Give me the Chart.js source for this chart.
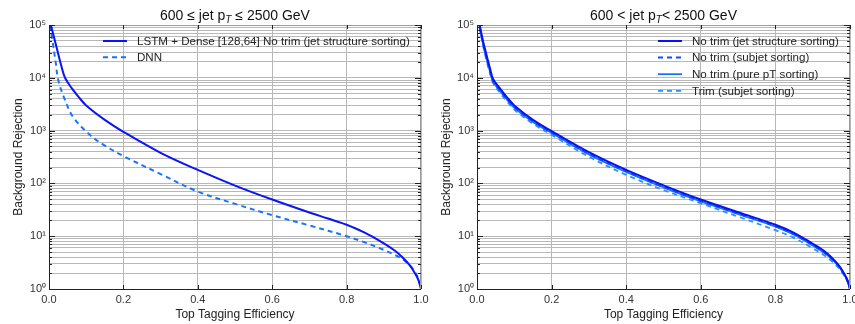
<!DOCTYPE html>
<html>
<head>
<meta charset="utf-8">
<script src="https://cdn.jsdelivr.net/npm/chart.js@4.4.0/dist/chart.umd.min.js"></script>
<style>
  html, body { margin: 0; padding: 0; background: #fff; overflow: hidden; width: 855px; height: 324px; }
  canvas { position: absolute; top: 0; }
  #left { left: 0; }
  #right { left: 430px; }
</style>
</head>
<body>
<canvas id="left" width="440" height="324"></canvas>
<canvas id="right" width="440" height="324"></canvas>
<script>
// --- data ---
// left panel
const effLstm = [0.005, 0.016, 0.025, 0.035, 0.043, 0.06, 0.08, 0.1, 0.15, 0.2, 0.3, 0.4, 0.5, 0.6, 0.7, 0.75, 0.8, 0.85, 0.875, 0.9, 0.93, 0.95, 0.97, 0.98, 0.99, 0.995, 1.0];
const rejLstm = [100000, 50000, 28000, 15000, 10000, 6500, 4300, 3000, 1600, 950, 380, 180, 91, 49.5, 28.1, 21.6, 16.5, 11.6, 9.3, 7.3, 5.3, 4, 2.8, 2.2, 1.65, 1.35, 1];
const effDnn  = [0.003, 0.01, 0.018, 0.025, 0.043, 0.065, 0.11, 0.15, 0.2, 0.3, 0.4, 0.5, 0.6, 0.7, 0.8, 0.85, 0.9, 0.93, 0.95, 0.97, 0.98, 0.99, 0.995, 1.0];
const rejDnn  = [100000, 47000, 19500, 9000, 3800, 1800, 830, 520, 330, 150, 70, 41, 25, 16, 10, 7.6, 5.5, 4.4, 3.7, 2.8, 2.3, 1.75, 1.4, 1];

// right panel
const effRight   = [0.007, 0.016, 0.025, 0.035, 0.043, 0.06, 0.08, 0.1, 0.15, 0.2, 0.3, 0.4, 0.5, 0.6, 0.7, 0.8, 0.85, 0.9, 0.93, 0.95, 0.97, 0.98, 0.99, 0.995, 1.0];
const rejStruct  = [100000, 50000, 28000, 15000, 9500, 6500, 4300, 3000, 1600, 980, 390, 180, 92, 49.5, 28.5, 16.5, 11.6, 7.2, 5.3, 4, 2.8, 2.2, 1.65, 1.35, 1];
const rejSubjet  = [95000, 46000, 25000, 13500, 8800, 6000, 4000, 2800, 1500, 920, 365, 170, 86, 46.5, 27, 15.5, 10.9, 6.8, 5, 3.8, 2.7, 2.15, 1.6, 1.33, 1];
const rejPurePt  = [92000, 44000, 24000, 13000, 8500, 5800, 3900, 2700, 1450, 900, 355, 165, 84, 45.5, 26.3, 15.2, 10.7, 6.7, 4.9, 3.75, 2.7, 2.1, 1.6, 1.32, 1];
const rejTrim    = [88000, 42000, 22000, 12000, 8000, 5400, 3600, 2500, 1350, 830, 320, 145, 75, 42, 23.5, 13, 9.3, 5.9, 4.4, 3.4, 2.5, 2.0, 1.55, 1.3, 1];

const xTickLabels = ['0.0', '0.2', '0.4', '0.6', '0.8', '1.0'];
const yDecadeLabels = ['10\u2070', '10\u00b9', '10\u00b2', '10\u00b3', '10\u2074', '10\u2075'];

const FONT = "'Liberation Sans', Arial, Helvetica, sans-serif";

const pts = (xs, ys) => xs.map((x, i) => ({ x, y: ys[i] }));

// y ticks: 1..9 x 10^n
const yTickValues = [];
for (let n = 0; n < 5; n++) for (let k = 1; k < 10; k++) yTickValues.push(k * Math.pow(10, n));
yTickValues.push(100000);

function decadeIndex(v) {
  const e = Math.log10(v);
  return Math.abs(e - Math.round(e)) < 1e-9 ? Math.round(e) : -1;
}

// title with subscript T
const titlePlugin = {
  id: 'subTitle',
  afterDraw(chart, args, opts) {
    const ctx = chart.ctx, a = chart.chartArea;
    ctx.save();
    ctx.fillStyle = '#111';
    ctx.textBaseline = 'alphabetic';
    const big = '14px ' + FONT, small = 'italic 10px ' + FONT;
    let w = 0;
    opts.parts.forEach(p => { ctx.font = p.sub ? small : big; w += ctx.measureText(p.t).width; });
    let x = (a.left + a.right) / 2 - w / 2;
    opts.parts.forEach(p => {
      ctx.font = p.sub ? small : big;
      ctx.fillText(p.t, x, p.sub ? 23 : 20);
      x += ctx.measureText(p.t).width;
    });
    ctx.restore();
  }
};

// legend drawn inside the plot, no box
const legendPlugin = {
  id: 'innerLegend',
  afterDraw(chart, args, opts) {
    const ctx = chart.ctx;
    ctx.save();
    chart.data.datasets.forEach((ds, i) => {
      const y = opts.y + i * opts.step;
      ctx.strokeStyle = ds.borderColor;
      ctx.lineWidth = ds.borderWidth;
      ctx.setLineDash(ds.borderDash || []);
      ctx.beginPath();
      ctx.moveTo(opts.x, y);
      ctx.lineTo(opts.x + 24, y);
      ctx.stroke();
      ctx.setLineDash([]);
      ctx.fillStyle = '#222';
      ctx.font = opts.size + 'px ' + FONT;
      ctx.textBaseline = 'middle';
      ctx.fillText(ds.label, opts.x + 34, y + 0.5);
    });
    ctx.restore();
  }
};

// frame + inward tick marks
const framePlugin = {
  id: 'frame',
  afterDatasetsDraw(chart) {
    const ctx = chart.ctx, a = chart.chartArea;
    const ys = chart.scales.y, xs = chart.scales.x;
    ctx.save();
    ctx.lineWidth = 1;
    ctx.strokeStyle = '#9a9a9a';
    ctx.beginPath();
    ctx.moveTo(a.left, a.top + 0.5); ctx.lineTo(a.right, a.top + 0.5);
    ctx.moveTo(a.right - 0.5, a.top); ctx.lineTo(a.right - 0.5, a.bottom);
    ctx.stroke();
    ctx.strokeStyle = '#222';
    ctx.beginPath();
    ctx.moveTo(a.left + 0.5, a.top); ctx.lineTo(a.left + 0.5, a.bottom + 0.5);
    ctx.lineTo(a.right, a.bottom + 0.5);
    yTickValues.forEach(v => {
      const py = Math.round(ys.getPixelForValue(v)) + 0.5;
      const len = decadeIndex(v) >= 0 ? 6 : 3;
      ctx.moveTo(a.left, py); ctx.lineTo(a.left + len, py);
      ctx.moveTo(a.right, py); ctx.lineTo(a.right - len, py);
    });
    xTickLabels.forEach(l => {
      const px = Math.round(xs.getPixelForValue(parseFloat(l))) + 0.5;
      ctx.moveTo(px, a.bottom); ctx.lineTo(px, a.bottom - 4);
      ctx.moveTo(px, a.top); ctx.lineTo(px, a.top + 4);
    });
    ctx.stroke();
    ctx.restore();
  }
};

function makeChart(id, datasets, o) {
  return new Chart(document.getElementById(id), {
    type: 'line',
    data: { datasets },
    options: {
      responsive: false,
      animation: false,
      layout: { padding: { left: 0, right: o.padRight, top: 25, bottom: 0 } },
      elements: { point: { radius: 0 }, line: { tension: 0.35 } },
      plugins: {
        legend: { display: false },
        tooltip: { enabled: false },
        subTitle: { parts: o.title },
        innerLegend: o.legend
      },
      scales: {
        x: {
          type: 'linear', min: 0, max: 1,
          afterBuildTicks: s => { s.ticks = xTickLabels.map(l => ({ value: parseFloat(l) })); },
          afterFit: s => { s.height = 35; },
          ticks: { callback: v => v.toFixed(1), font: { family: FONT, size: 11 }, color: '#333', padding: 4, maxRotation: 0, autoSkip: false },
          grid: { color: '#b8b8b8', drawTicks: false },
          border: { display: false },
          title: { display: true, text: 'Top Tagging Efficiency', font: { family: FONT, size: 12 }, color: '#222', padding: { top: 0, bottom: 2 } }
        },
        y: {
          type: 'logarithmic', min: 1, max: 100000,
          afterBuildTicks: s => { s.ticks = yTickValues.map(v => ({ value: v, major: decadeIndex(v) >= 0 })); },
          afterFit: s => { s.width = o.yWidth; },
          ticks: {
            autoSkip: false,
            callback: v => { const n = decadeIndex(v); return n >= 0 ? yDecadeLabels[n] : ''; },
            font: { family: FONT, size: 11 }, color: '#333', padding: 3
          },
          grid: { color: '#b8b8b8', drawTicks: false },
          border: { display: false },
          title: { display: true, text: 'Background Rejection', font: { family: FONT, size: 12 }, color: '#222', padding: { top: o.yTitlePad, bottom: 0 } }
        }
      }
    },
    plugins: [titlePlugin, legendPlugin, framePlugin]
  });
}

makeChart('left', [
  { label: 'LSTM + Dense [128,64] No trim (jet structure sorting)', data: pts(effLstm, rejLstm), borderColor: '#0a14f5', borderWidth: 2 },
  { label: 'DNN', data: pts(effDnn, rejDnn), borderColor: '#1a72ff', borderWidth: 2, borderDash: [5, 4] }
], {
  padRight: 19, yWidth: 49, yTitlePad: 11,
  title: [{ t: '600 \u2264 jet p' }, { t: 'T', sub: true }, { t: ' \u2264 2500 GeV' }],
  legend: { x: 103, y: 41, step: 16.3, size: 11.6 }
});

makeChart('right', [
  { label: 'No trim (jet structure sorting)', data: pts(effRight, rejStruct), borderColor: '#0a12ee', borderWidth: 2 },
  { label: 'No trim (subjet sorting)', data: pts(effRight, rejSubjet), borderColor: '#0c4dff', borderWidth: 2, borderDash: [5, 4] },
  { label: 'No trim (pure pT sorting)', data: pts(effRight, rejPurePt), borderColor: '#1570ff', borderWidth: 1.8 },
  { label: 'Trim (subjet sorting)', data: pts(effRight, rejTrim), borderColor: '#2a8fff', borderWidth: 1.8, borderDash: [5, 4] }
], {
  padRight: 20, yWidth: 47, yTitlePad: 9,
  title: [{ t: '600 < jet p' }, { t: 'T', sub: true }, { t: '< 2500 GeV' }],
  legend: { x: 228, y: 41, step: 16.6, size: 11.6 }
});
</script>
</body>
</html>
